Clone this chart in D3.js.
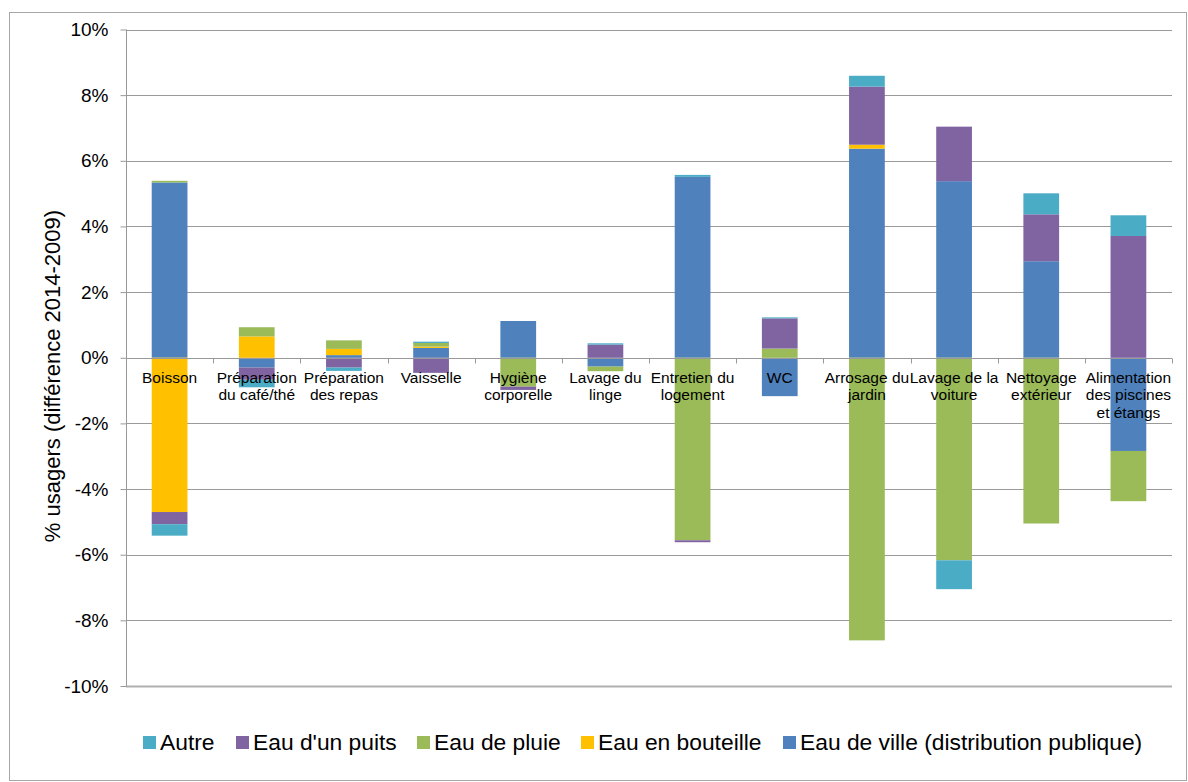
<!DOCTYPE html>
<html>
<head>
<meta charset="utf-8">
<script src="https://cdn.jsdelivr.net/npm/d3@7/dist/d3.min.js"></script>
<style>
  html, body { margin: 0; padding: 0; background: #fff; }
  svg { display: block; font-family: "Liberation Sans", Arial, sans-serif; }
</style>
</head>
<body>
<svg id="chart" width="1188" height="782"></svg>
<script>
// ---- Data ----
const categories = [
  "Boisson", "Préparation du café/thé", "Préparation des repas", "Vaisselle",
  "Hygiène corporelle", "Lavage du linge", "Entretien du logement", "WC",
  "Arrosage du jardin", "Lavage de la voiture", "Nettoyage extérieur",
  "Alimentation des piscines et étangs"
];
const categoryLines = [
  ["Boisson"], ["Préparation", "du café/thé"], ["Préparation", "des repas"], ["Vaisselle"],
  ["Hygiène", "corporelle"], ["Lavage du", "linge"], ["Entretien du", "logement"], ["WC"],
  ["Arrosage du", "jardin"], ["Lavage de la", "voiture"], ["Nettoyage", "extérieur"],
  ["Alimentation", "des piscines", "et étangs"]
];
const eauDeVille     = [5.34, -0.30, 0.08, 0.30, 1.12, -0.27, 5.51, -1.17, 6.37, 5.38, 2.94, -2.84];
const eauEnBouteille = [-4.70, 0.65, 0.19, 0.04, 0.00, 0.00, 0.00, 0.00, 0.12, 0.00, 0.00, 0.00];
const eauDePluie     = [0.05, 0.28, 0.26, 0.11, -0.88, -0.14, -5.56, 0.28, -8.61, -6.17, -5.05, -1.53];
const eauDunPuits    = [-0.37, -0.37, -0.30, -0.46, -0.10, 0.40, -0.06, 0.92, 1.77, 1.66, 1.43, 3.71];
const autre          = [-0.35, -0.23, -0.10, 0.04, 0.00, 0.04, 0.06, 0.03, 0.33, -0.88, 0.64, 0.63];
const yTicks = [-10, -8, -6, -4, -2, 0, 2, 4, 6, 8, 10];
const legendOrder = ["Autre", "Eau d'un puits", "Eau de pluie", "Eau en bouteille", "Eau de ville (distribution publique)"];
const yTitle = "% usagers (différence 2014-2009)";

// stacking order from zero outward
const seriesKeys = ["Eau de ville (distribution publique)", "Eau en bouteille", "Eau de pluie", "Eau d'un puits", "Autre"];
const seriesValues = {
  "Eau de ville (distribution publique)": eauDeVille,
  "Eau en bouteille": eauEnBouteille,
  "Eau de pluie": eauDePluie,
  "Eau d'un puits": eauDunPuits,
  "Autre": autre
};
const colors = {
  "Autre": "#4BACC6",
  "Eau d'un puits": "#8064A2",
  "Eau de pluie": "#9BBB59",
  "Eau en bouteille": "#FFC000",
  "Eau de ville (distribution publique)": "#4F81BD"
};

const rows = categories.map((c, i) => {
  const r = { cat: c };
  seriesKeys.forEach(k => r[k] = seriesValues[k][i]);
  return r;
});

// ---- Layout ----
const svg = d3.select("#chart");
const plotL = 126, plotR = 1172, plotT = 29.5, plotB = 686;

svg.append("rect").attr("x", 9.5).attr("y", 12.5).attr("width", 1177).attr("height", 768)
  .attr("fill", "#fff").attr("stroke", "#a6a6a6").attr("stroke-width", 1);

const x = d3.scaleBand().domain(categories).range([plotL, plotR])
  .paddingInner(0.59).paddingOuter(0.295);
const y = d3.scaleLinear().domain([-10, 10]).range([plotB, plotT]);

// gridlines
svg.append("g").selectAll("line").data(yTicks).join("line")
  .attr("x1", plotL).attr("x2", plotR)
  .attr("y1", d => Math.round(y(d)) + 0.5).attr("y2", d => Math.round(y(d)) + 0.5)
  .attr("stroke", d => d === -10 ? "#b0b0b0" : "#9a9a9a")
  .attr("stroke-width", d => d === -10 ? 2 : 1);

// bars
const stack = d3.stack().keys(seriesKeys).offset(d3.stackOffsetDiverging);
const stacked = stack(rows);
svg.append("g").selectAll("g").data(stacked).join("g")
  .attr("fill", s => colors[s.key])
  .selectAll("rect").data(s => s).join("rect")
  .attr("x", d => x(d.data.cat))
  .attr("width", x.bandwidth())
  .attr("y", d => y(Math.max(d[0], d[1])))
  .attr("height", d => Math.abs(y(d[0]) - y(d[1])));

// y axis
const yAxis = d3.axisLeft(y).tickValues(yTicks).tickSize(6).tickPadding(12)
  .tickFormat(d => d + "%");
const gy = svg.append("g").attr("transform", `translate(${plotL + 0.5},0)`).call(yAxis);
gy.select(".domain").attr("stroke", "#999").attr("d", `M0,${plotT}V${plotB}`);
gy.selectAll(".tick line").attr("stroke", "#999");
gy.selectAll(".tick text").attr("font-size", 19).attr("fill", "#000")
  .attr("font-family", "'Liberation Sans', Arial, sans-serif");

// x axis at zero
const y0 = Math.round(y(0)) + 0.5;
svg.append("line").attr("x1", plotL).attr("x2", plotR).attr("y1", y0).attr("y2", y0)
  .attr("stroke", "#999");
const step = x.step();
svg.append("g").selectAll("line").data(d3.range(categories.length + 1)).join("line")
  .attr("x1", i => Math.round(plotL + i * step) + 0.5)
  .attr("x2", i => Math.round(plotL + i * step) + 0.5)
  .attr("y1", y0).attr("y2", y0 + 5).attr("stroke", "#999");

// category labels
const lab = svg.append("g").selectAll("text").data(categories).join("text")
  .attr("text-anchor", "middle").attr("font-size", 15.5).attr("fill", "#000")
  .attr("x", c => x(c) + x.bandwidth() / 2)
  .attr("y", y0 + 24);
lab.each(function(c, i) {
  const t = d3.select(this);
  categoryLines[i].forEach((ln, j) => {
    t.append("tspan").attr("x", x(c) + x.bandwidth() / 2)
      .attr("dy", j === 0 ? 0 : 17.5).text(ln);
  });
});

// y title
svg.append("text").attr("transform", "translate(60,376) rotate(-90)")
  .attr("text-anchor", "middle").attr("font-size", 22).attr("fill", "#000")
  .text(yTitle);

// legend
const legendX = [143, 236, 417, 581, 783];
const lg = svg.append("g").selectAll("g").data(legendOrder).join("g")
  .attr("transform", (d, i) => `translate(${legendX[i]},736)`);
lg.append("rect").attr("width", 13).attr("height", 13).attr("fill", d => colors[d]);
lg.append("text").attr("x", 17).attr("y", 14).attr("font-size", 22.8).attr("fill", "#000")
  .text(d => d);
</script>
</body>
</html>
